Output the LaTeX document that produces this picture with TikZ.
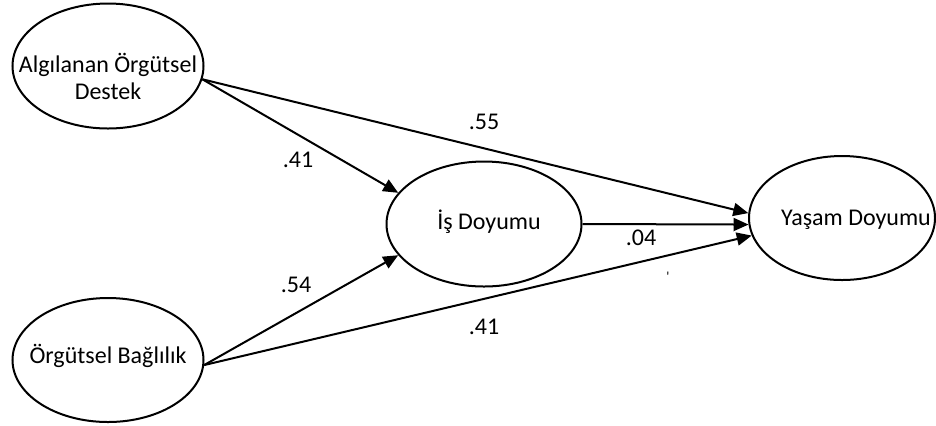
\documentclass[tikz,border=0pt]{standalone}
\usepackage{fontspec}
\setmainfont{Carlito}
\usetikzlibrary{shapes.geometric,arrows.meta}

\begin{document}
\begin{tikzpicture}[x=0.5pt,y=-0.5pt,
    every node/.style={font=\fontsize{12}{13.5}\selectfont},
    latent/.style={shape=ellipse,draw,line width=1pt,inner sep=0pt},
    pathline/.style={line width=1pt,-{Triangle[length=7.5pt,width=6.5pt]}}]
    \useasboundingbox (0,0) rectangle (936,425);
    \node[latent,minimum width=95.5pt,minimum height=62.5pt,label={[align=center,yshift=-5pt]center:Algılanan Örgütsel\\Destek}] (aod) at (108,66) {};
    \node[latent,minimum width=95.5pt,minimum height=62pt,label={[yshift=2pt]center:Örgütsel Bağlılık}] (ob) at (108,360) {};
    \node[latent,minimum width=97.5pt,minimum height=62.5pt,label={[xshift=2.5pt,yshift=1pt]center:İş Doyumu}] (isd) at (484,224) {};
    \node[latent,minimum width=93pt,minimum height=62pt,label={[xshift=7pt,yshift=-1pt]center:Yaşam Doyumu}] (yd) at (842,218) {};
    \draw[pathline] (aod.-8) to (isd.160);
    \draw[pathline] (aod.-8) to (yd.177);
    \draw[pathline] (isd.east) to (yd.184);
    \draw[pathline] (ob.-3) to (isd.200);
    \draw[pathline] (ob.-3) to (yd.191);
    \node (c1) at (298,160) {.41};
    \node (c2) at (484,122) {.55};
    \node (c3) at (641,238) {.04};
    \node (c4) at (296,285) {.54};
    \node (c5) at (484,327) {.41};
    \node[anchor=base,font=\fontsize{7}{7}\selectfont] (tick) at (668,281) {\textquotesingle};
\end{tikzpicture}
\end{document}
